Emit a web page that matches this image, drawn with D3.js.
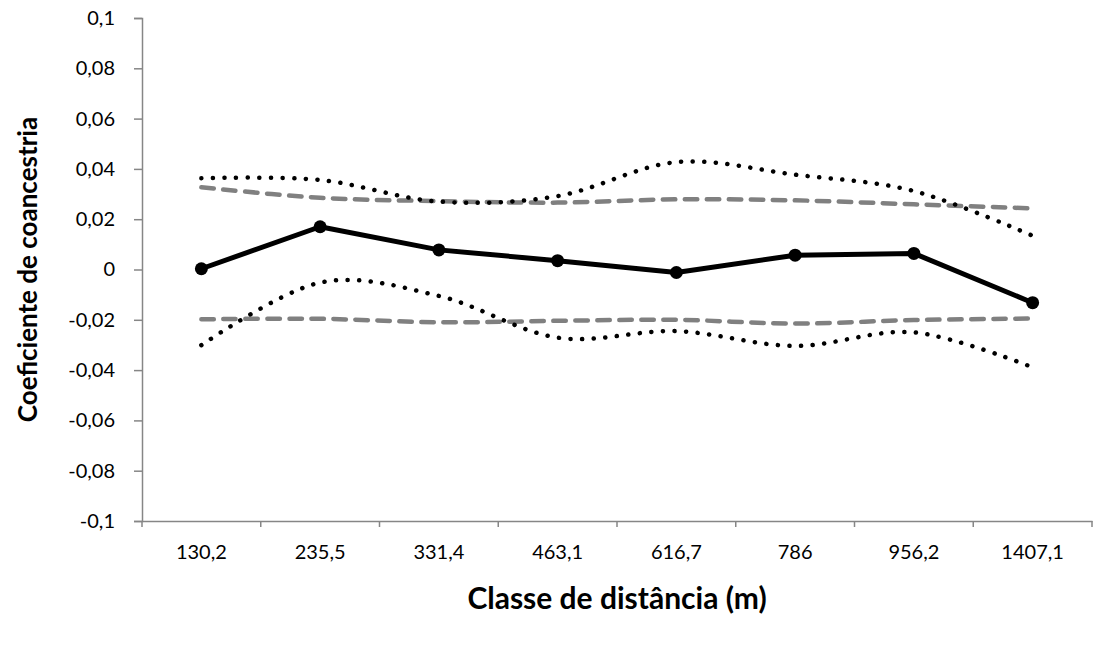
<!DOCTYPE html>
<html>
<head>
<meta charset="utf-8">
<script src="https://cdn.jsdelivr.net/npm/d3@7"></script>
<style>
    body { margin: 0; background: #fff; }
    svg text { font-family: Lato, "Open Sans", sans-serif; fill: #000; }
</style>
</head>
<body>
<div id="chart"></div>
<script>
// classes de distância (m)
var classes = ["130,2", "235,5", "331,4", "463,1", "616,7", "786", "956,2", "1407,1"];
// coeficiente de coancestria observado
var observado = [0.0003, 0.0170, 0.0078, 0.0035, -0.0012, 0.0057, 0.0064, -0.0132];
// intervalo de confiança (erro) - linhas pontilhadas
var icSuperior = [0.0363, 0.0356, 0.0270, 0.0292, 0.0427, 0.0377, 0.0312, 0.0134];
var icInferior = [-0.0301, -0.0052, -0.0105, -0.0271, -0.0245, -0.0304, -0.0250, -0.0389];
// envelope (hipótese nula) - linhas tracejadas
var envSuperior = [0.0327, 0.0285, 0.0272, 0.0266, 0.0279, 0.0275, 0.0259, 0.0243];
var envInferior = [-0.0198, -0.0196, -0.0210, -0.0204, -0.0200, -0.0215, -0.0201, -0.0195];
var yTicks = [-0.1, -0.08, -0.06, -0.04, -0.02, 0, 0.02, 0.04, 0.06, 0.08, 0.1];

var width = 1094,
    height = 648,
    margin = {top: 18, right: 2, bottom: 127, left: 142};

var svg = d3.select("#chart").append("svg")
    .attr("width", width)
    .attr("height", height);

var x = d3.scaleBand()
    .domain(classes)
    .range([margin.left, width - margin.right]);

var y = d3.scaleLinear()
    .domain([-0.1, 0.1])
    .range([height - margin.bottom, margin.top]);

var fmt = function (d) {
    return d === 0 ? "0" : String(+d.toFixed(2)).replace(".", ",");
};

// eixo y
var yAxis = svg.append("g")
    .attr("transform", "translate(" + margin.left + ",0)")
    .call(d3.axisLeft(y).tickValues(yTicks).tickFormat(fmt).tickSizeOuter(0).tickSize(8).tickPadding(19));

// eixo x (na base, -0,1)
var xAxis = svg.append("g")
    .attr("transform", "translate(0," + y(-0.1) + ")")
    .call(d3.axisBottom(x).tickSize(0).tickPadding(24));

// marcas entre as classes
var bounds = classes.map(function (c) { return x(c); }).concat([width - margin.right]);
xAxis.selectAll(".sep")
    .data(bounds)
    .enter().append("line")
    .attr("class", "sep")
    .attr("x1", function (d) { return d; })
    .attr("x2", function (d) { return d; })
    .attr("y1", 0)
    .attr("y2", 6);

[yAxis, xAxis].forEach(function (g) {
    g.selectAll("path, line").attr("stroke", "#868686").attr("stroke-width", 1.5);
    g.selectAll("text").attr("font-size", 20).style("fill", "#000");
});

function cx(d, i) { return x(classes[i]) + x.bandwidth() / 2; }

var smooth = d3.line()
    .x(cx)
    .y(function (d) { return y(d); })
    .curve(d3.curveCardinal.tension(0));

var straight = d3.line()
    .x(cx)
    .y(function (d) { return y(d); });

// envelopes tracejados
[envSuperior, envInferior].forEach(function (s) {
    svg.append("path")
        .datum(s)
        .attr("d", smooth)
        .attr("fill", "none")
        .attr("stroke", "#808080")
        .attr("stroke-width", 4.5)
        .attr("stroke-linecap", "round")
        .attr("stroke-dasharray", "12.5,9.5");
});

// intervalos pontilhados
[icSuperior, icInferior].forEach(function (s) {
    svg.append("path")
        .datum(s)
        .attr("d", smooth)
        .attr("fill", "none")
        .attr("stroke", "#000")
        .attr("stroke-width", 4.5)
        .attr("stroke-linecap", "round")
        .attr("stroke-dasharray", "0.1,11.5");
});

// linha observada
svg.append("path")
    .datum(observado)
    .attr("d", straight)
    .attr("fill", "none")
    .attr("stroke", "#000")
    .attr("stroke-width", 5)
    .attr("stroke-linejoin", "round");

svg.selectAll(".pt")
    .data(observado)
    .enter().append("circle")
    .attr("class", "pt")
    .attr("cx", cx)
    .attr("cy", function (d) { return y(d); })
    .attr("r", 6.5)
    .attr("fill", "#000");

// títulos dos eixos
svg.append("text")
    .attr("x", (margin.left + width - margin.right) / 2)
    .attr("y", 609)
    .attr("text-anchor", "middle")
    .attr("font-size", 30)
    .attr("font-weight", "bold")
    .text("Classe de distância (m)");

svg.append("text")
    .attr("transform", "translate(37," + y(0) + ") rotate(-90)")
    .attr("text-anchor", "middle")
    .attr("font-size", 26)
    .attr("font-weight", "bold")
    .text("Coeficiente de coancestria");
</script>
</body>
</html>
